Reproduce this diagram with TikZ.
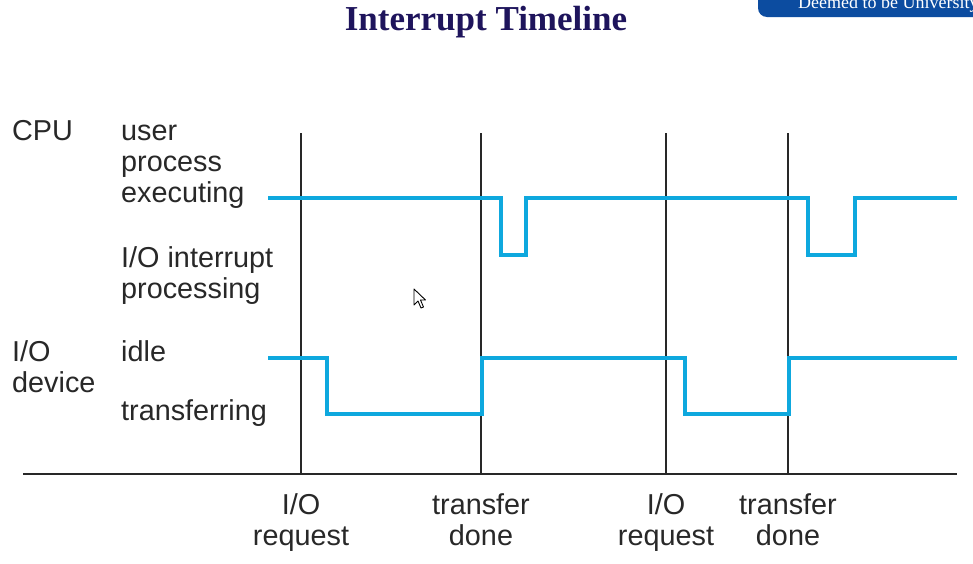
\documentclass[tikz,border=0pt]{standalone}
\usepackage{fontspec}
\setmainfont{Liberation Sans}
\newfontfamily\serifttl{Liberation Serif}
\definecolor{sig}{RGB}{14,168,222}
\definecolor{txt}{RGB}{40,40,40}
\definecolor{ttl}{RGB}{30,20,92}
\definecolor{banner}{RGB}{12,76,160}
\tikzset{
  lbl/.style={anchor=base west,inner sep=0pt,text=txt,font=\fontsize{28.8}{30}\selectfont},
  blbl/.style={anchor=base,inner sep=0pt,text=txt,font=\fontsize{28.8}{30}\selectfont},
  signal/.style={draw=sig,line width=4pt,line join=miter},
  marker/.style={draw=txt,line width=1.4pt},
  axis/.style={draw=txt,line width=2.4pt}
}
\begin{document}
\begin{tikzpicture}[x=1pt,y=-1pt]
\useasboundingbox (0,0) rectangle (973,563);
\clip (0,0) rectangle (973,563);
\fill[white] (0,0) rectangle (973,563);
% banner
\fill[banner,rounded corners=9pt] (758,-30) rectangle (990,17);
\node[anchor=base west,inner sep=0pt,text=white,font=\serifttl\fontsize{18}{20}\selectfont] (ban) at (798,8) {Deemed to be University};
% title
\node[anchor=base,inner sep=0pt,text=ttl,font=\serifttl\bfseries\fontsize{35}{37}\selectfont] (title) at (486,30) {Interrupt Timeline};
% markers
\foreach \n/\x in {a/301,b/481,c/666,d/788}{
  \coordinate (\n t) at (\x,133);
  \coordinate (\n b) at (\x,474);
  \draw[marker] (\n t) -- (\n b);
}
\coordinate (axl) at (23,474);
\coordinate (axr) at (957,474);
\draw[axis] (axl) -- (axr);
% CPU signal
\coordinate (c0) at (268,198);
\coordinate (c1) at (957,198);
\draw[signal] (c0) -- (501,198) -- (501,255) -- (526,255) -- (526,198) -- (808,198) -- (808,255) -- (855,255) -- (855,198) -- (c1);
% IO signal
\coordinate (i0) at (268,358);
\coordinate (i1) at (957,358);
\draw[signal] (i0) -- (327,358) -- (327,414) -- (482,414) -- (482,358) -- (685,358) -- (685,414) -- (789,414) -- (789,358) -- (i1);
% left labels
\node[lbl] (cpu) at (12,140) {CPU};
\node[lbl] (u1) at (121,140) {user};
\node[lbl] (u2) at (121,171) {process};
\node[lbl] (u3) at (121,202) {executing};
\node[lbl] (p1) at (121,267) {I/O interrupt};
\node[lbl] (p2) at (121,298) {processing};
\node[lbl] (io1) at (12,361) {I/O};
\node[lbl] (io2) at (12,392) {device};
\node[lbl] (idle) at (121,361) {idle};
\node[lbl] (tr) at (121,420) {transferring};
% bottom labels
\node[blbl] (r1a) at (301,514) {I/O};
\node[blbl] (r1b) at (301,545) {request};
\node[blbl] (d1a) at (481,514) {transfer};
\node[blbl] (d1b) at (481,545) {done};
\node[blbl] (r2a) at (666,514) {I/O};
\node[blbl] (r2b) at (666,545) {request};
\node[blbl] (d2a) at (788,514) {transfer};
\node[blbl] (d2b) at (788,545) {done};
% mouse pointer
\draw[black,fill=white,line width=0.9pt,line join=round] (414,289) -- (414,305) -- (418,301) -- (421,308) -- (423.5,307) -- (420.5,300) -- (425.5,300) -- cycle;
\end{tikzpicture}
\end{document}
